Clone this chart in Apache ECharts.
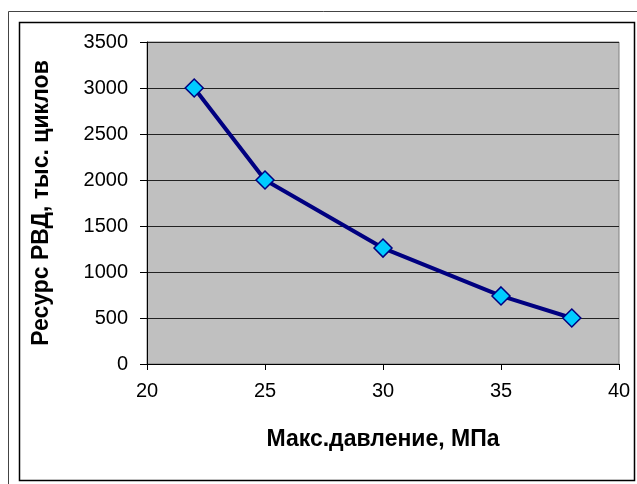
<!DOCTYPE html>
<html>
<head>
<meta charset="utf-8">
<script src="https://cdn.jsdelivr.net/npm/echarts@6/dist/echarts.min.js"></script>
<style>
html,body{margin:0;padding:0;background:#fff;}
#chart{width:637px;height:484px;}
</style>
</head>
<body>
<div id="chart"></div>
<script>
const pressure = [22, 25, 30, 35, 38];
const resource = [3000, 2000, 1260, 740, 500];
const xTitle = 'Макс.давление, МПа';
const yTitle = 'Ресурс РВД, тыс. циклов';

const chart = echarts.init(document.getElementById('chart'));
const font = 'Arial';
chart.setOption({
  animation: false,
  backgroundColor: '#ffffff',
  graphic: [
    {type: 'rect', shape: {x: 8.5, y: 11.5, width: 640, height: 480}, style: {fill: 'none', stroke: '#444', lineWidth: 1}},
    {type: 'rect', shape: {x: 19.5, y: 22.5, width: 615, height: 458}, style: {fill: 'none', stroke: '#000', lineWidth: 1.5}}
  ],
  grid: {
    left: 147, right: 18, top: 42, bottom: 120,
    show: true, backgroundColor: '#c0c0c0', borderColor: '#808080', borderWidth: 1
  },
  xAxis: {
    type: 'value', min: 20, max: 40, interval: 5,
    name: xTitle, nameLocation: 'middle', nameGap: 64,
    nameTextStyle: {fontFamily: font, fontSize: 23, fontWeight: 'bold', color: '#000'},
    axisLine: {show: true, onZero: false, lineStyle: {color: '#000', width: 1}},
    axisTick: {show: true, length: 6, lineStyle: {color: '#000'}},
    axisLabel: {fontFamily: font, fontSize: 20, color: '#000', margin: 17, formatter: v => String(v)},
    splitLine: {show: false}
  },
  yAxis: {
    type: 'value', min: 0, max: 3500, interval: 500,
    name: yTitle, nameLocation: 'middle', nameGap: 94, nameRotate: 90,
    nameTextStyle: {fontFamily: font, fontSize: 23, fontWeight: 'bold', color: '#000'},
    axisLine: {show: true, lineStyle: {color: '#000', width: 1}},
    axisTick: {show: true, length: 7, lineStyle: {color: '#000'}},
    axisLabel: {fontFamily: font, fontSize: 20, color: '#000', margin: 19, formatter: v => String(v)},
    splitLine: {show: true, lineStyle: {color: '#222', width: 1}}
  },
  series: [{
    type: 'line',
    data: pressure.map((p, i) => [p, resource[i]]),
    lineStyle: {color: '#000080', width: 4},
    symbol: 'diamond', symbolSize: 18,
    itemStyle: {color: '#00ccff', borderColor: '#000080', borderWidth: 1.5},
    z: 5
  }]
});
</script>
</body>
</html>
